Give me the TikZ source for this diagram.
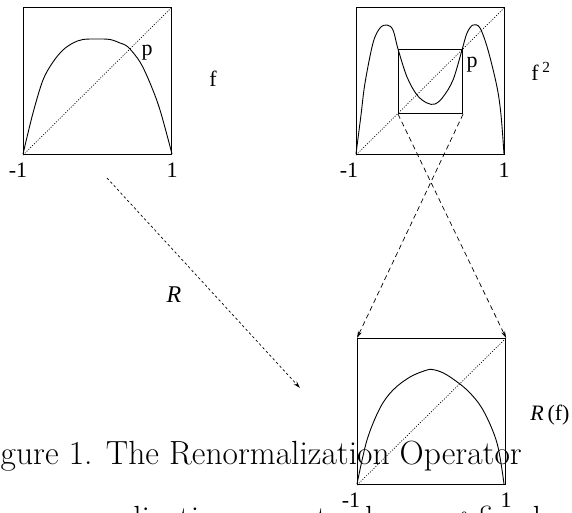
\documentclass[tikz,border=0pt]{standalone}
\usepackage{fontspec}
\newfontfamily\figfont{Liberation Serif}
\usetikzlibrary{arrows.meta}

\begin{document}
\begin{tikzpicture}[x=1pt,y=-1pt,
    frame/.style={draw=black, line width=1.1pt, inner sep=0pt, minimum width=148pt, minimum height=147pt, anchor=north west},
    graph/.style={black, line width=0.9pt, smooth, tension=0.55},
    diag/.style={black, line width=0.7pt, dash pattern=on 1pt off 1.6pt},
    zoomline/.style={black, line width=0.7pt, dash pattern=on 5pt off 3.5pt, -{Stealth[length=7pt,width=4pt]}},
    lbl/.style={font=\figfont\fontsize{22}{22}\selectfont, anchor=base, inner sep=0pt},
    captxt/.style={font=\fontsize{33.5}{40}\selectfont, inner sep=0pt}]
        \useasboundingbox (0,0) rectangle (572,512);
        \clip (0,0) rectangle (572,512);
        % Left graph: f
        \node[frame] (fbox) at (23,7) {};
        \draw[diag] (fbox.south west) -- (fbox.north east);
        \draw[graph] plot coordinates {(23,154) (33,113) (43,80) (53,62) (63,50) (73,43) (83,39.5) (97,39)
          (110,39.5) (120,43) (128,47) (140,62) (150,83) (160,110) (172,154)};
        \node[lbl] (fp) at (147,55) {p};
        \node[lbl] (fname) at (213,86) {f};
        \node[lbl] (fminus) at (18,177) {-1};
        \node[lbl] (fplus) at (172,177) {1};
        % Right graph: f^2 with the small square
        \node[frame] (ggbox) at (356,7) {};
        \draw[diag] (ggbox.south west) -- (ggbox.north east);
        \node[draw=black, line width=1.1pt, inner sep=0pt, minimum size=64pt, anchor=north west] (inner) at (398,49) {};
        \draw[graph] plot coordinates {(356,154) (361,115) (365,83) (373,43) (380,28) (387,25) (393,30) (398,49)
          (407,77) (417,95) (427,103) (435,104) (443,97) (453,80) (462,50) (467,33) (473,25) (480,28)
          (488,50) (497,87) (501,115) (504,154)};
        \node[lbl] (ggp) at (472,67) {p};
        \node[lbl] (ggname) at (541,80) {f\,\textsuperscript{2}};
        \node[lbl] (ggminus) at (349,177) {-1};
        \node[lbl] (ggplus) at (504,177) {1};
        % Bottom graph: R(f)
        \node[frame, minimum height=146pt] (rbox) at (357,338) {};
        \draw[diag] (rbox.south west) -- (rbox.north east);
        \draw[graph] plot coordinates {(357,484) (367,440) (380,408) (393,390) (410,377) (427,370) (435,370)
          (447,375) (467,390) (483,410) (497,443) (504,484)};
        \node[lbl] (rname) at (550,420) {\textit{R}\,(f)};
        \node[lbl] (rminus) at (351,507) {-1};
        \node[lbl] (rplus) at (506,507) {1};
        % Blow-up of the small square
        \draw[zoomline] (inner.south west) -- (rbox.north east);
        \draw[zoomline] (inner.south east) -- (rbox.north west);
        % The operator
        \coordinate (rfrom) at (107,178);
        \coordinate (rto) at (300,388);
        \draw[zoomline, dash pattern=on 2.5pt off 2.5pt] (rfrom) -- (rto);
        \node[lbl, font=\figfont\itshape\fontsize{24}{24}\selectfont] (rop) at (174,302) {R};
        % Caption, cut by the page
        \node[captxt, anchor=base east] (caption) at (522,464) {Figure 1.  The Renormalization Operator};
        \node[captxt, anchor=base west] (bodyline) at (22,529) {renormalization operator leaves $f$ fixed};
      \end{tikzpicture}
\end{document}
